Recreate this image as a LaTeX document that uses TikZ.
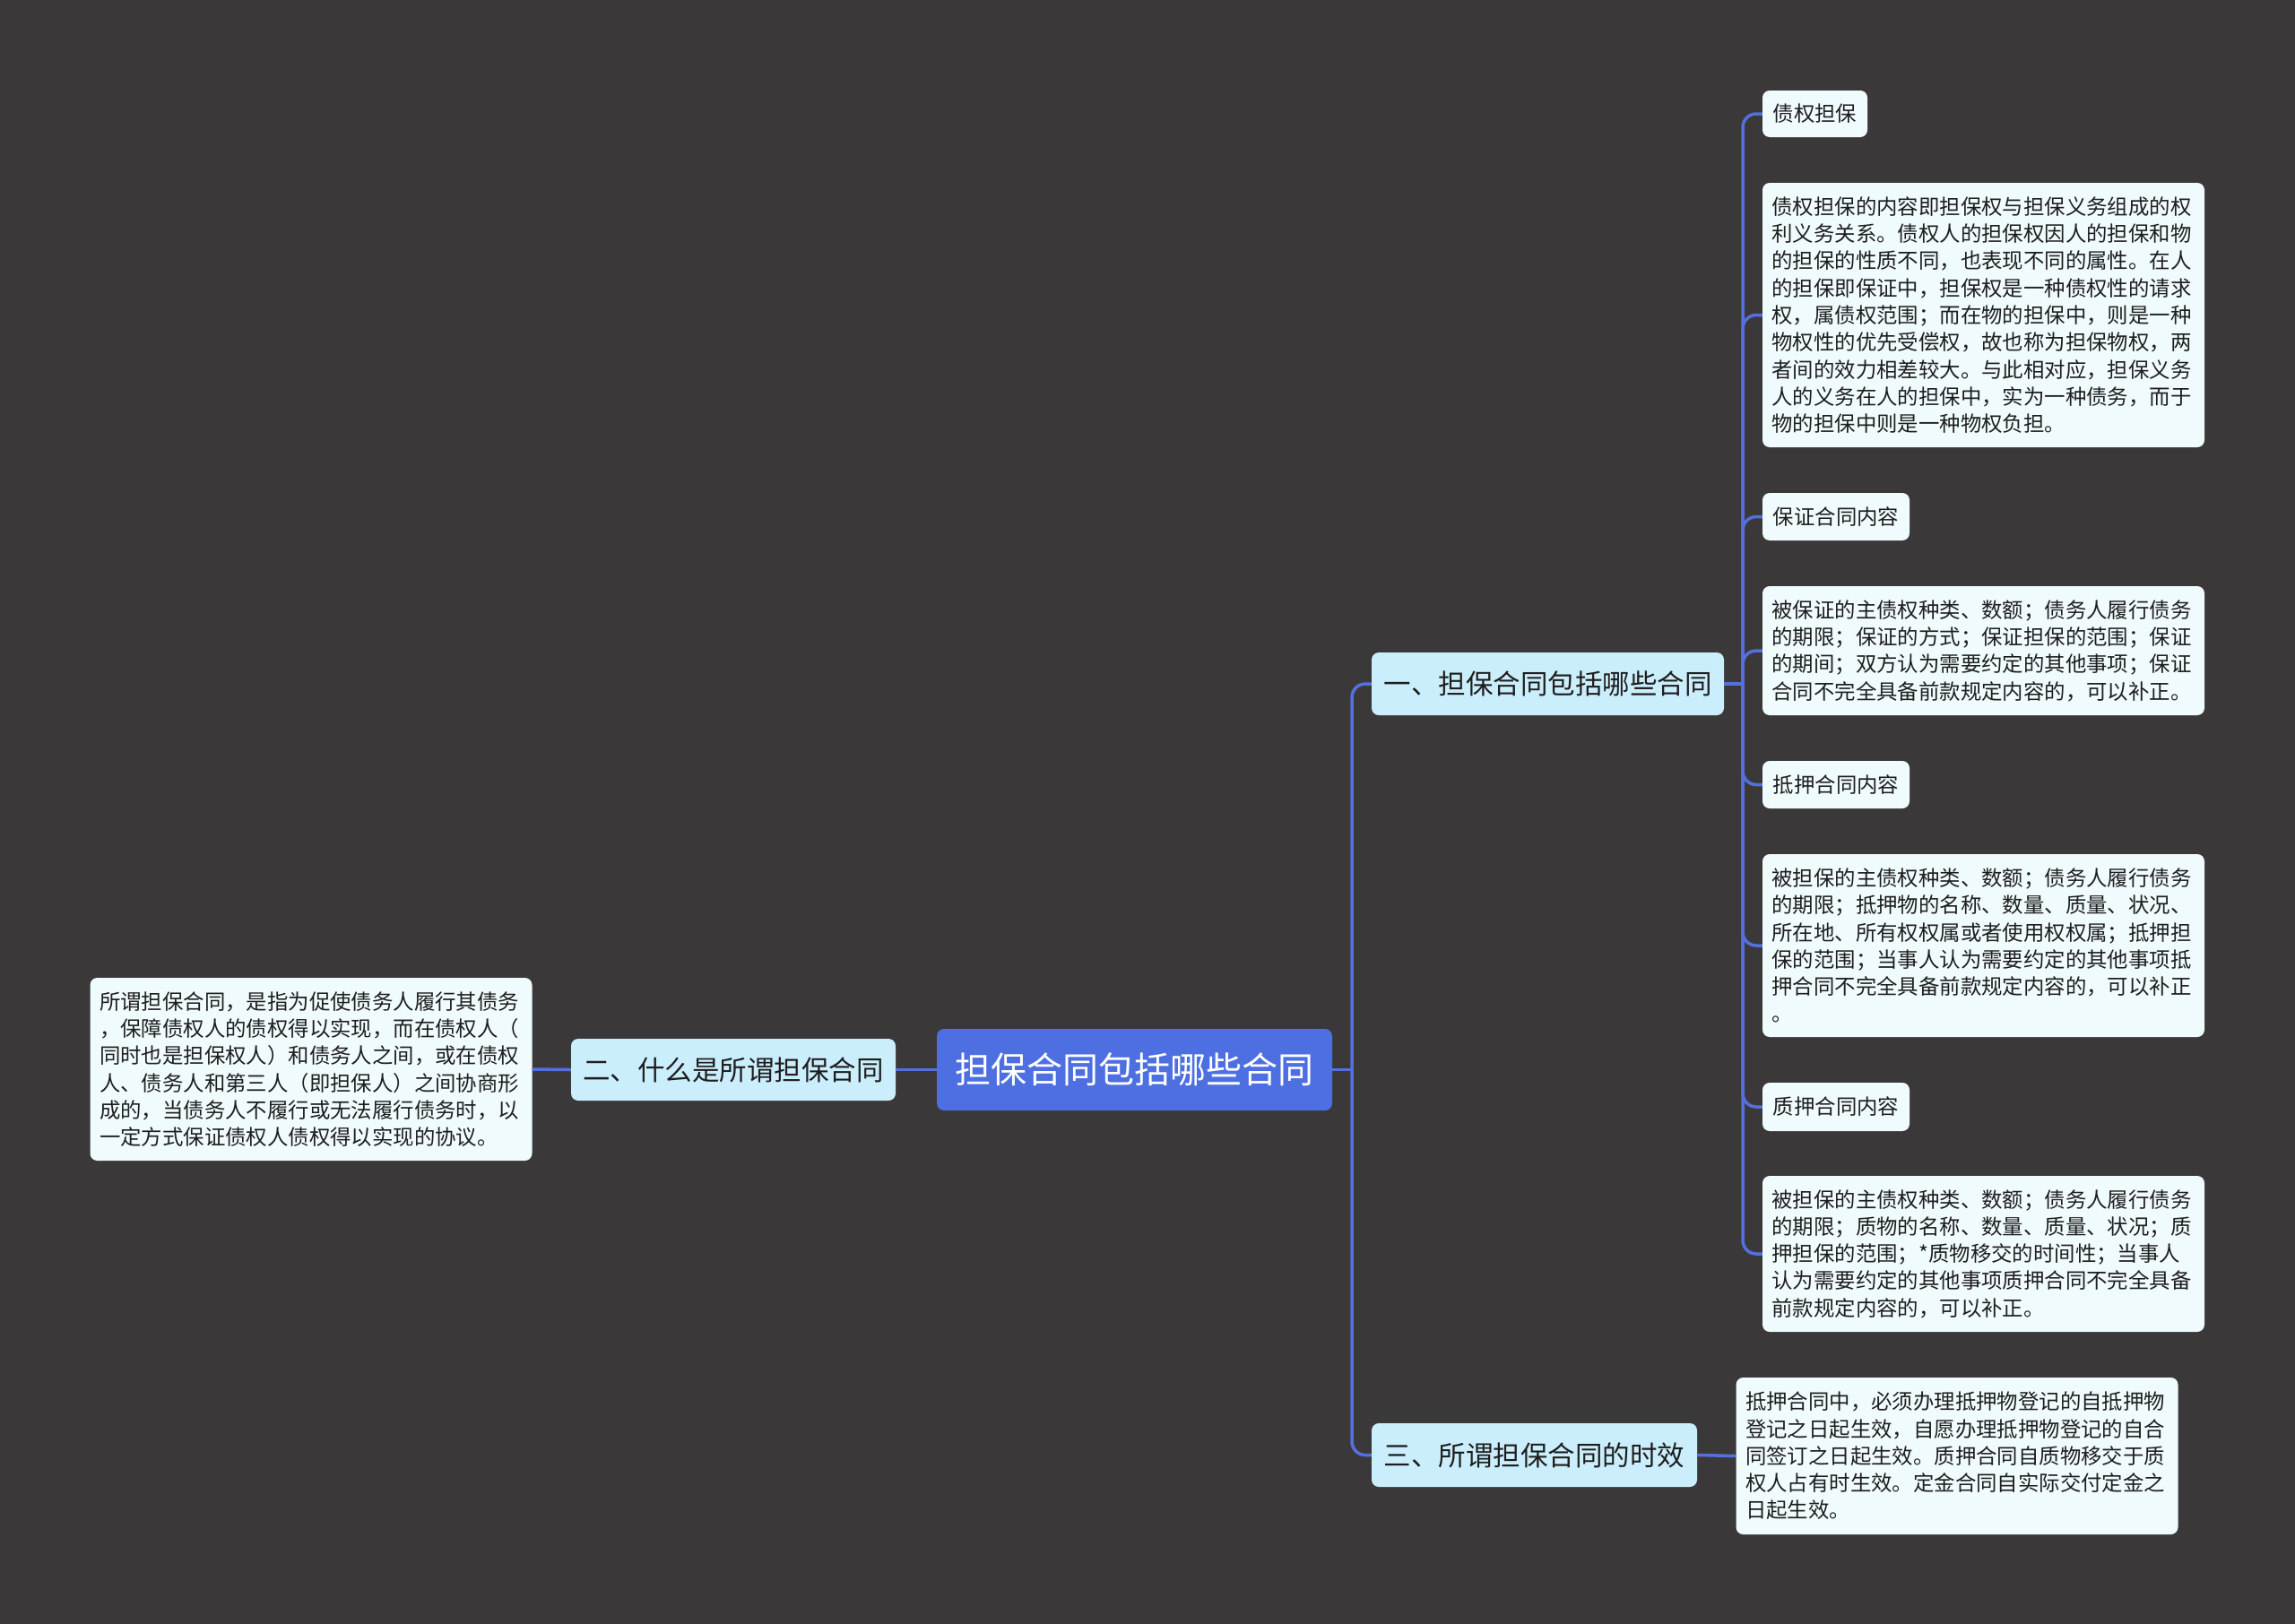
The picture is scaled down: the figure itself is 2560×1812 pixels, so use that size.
\documentclass[tikz,border=0pt]{standalone}
\usepackage{fontspec}
\setmainfont{Noto Sans CJK SC}
\usetikzlibrary{positioning,calc}
\definecolor{BgGrey}{RGB}{58, 56, 57}
\definecolor{LinkBlue}{RGB}{84, 112, 222}
\definecolor{RootBlue}{RGB}{78, 111, 226}
\definecolor{BranchFill}{RGB}{203, 238, 252}
\definecolor{LeafFill}{RGB}{240, 251, 253}
\definecolor{InkDark}{RGB}{30, 30, 30}

\begin{document}
\begin{tikzpicture}[x=1pt, y=-1pt,
  link/.style={draw=LinkBlue, line width=3.5pt, rounded corners=15pt},
  rootbox/.style={fill=RootBlue, rounded corners=8pt, text=white,
    font=\fontsize{40}{48}\selectfont, inner sep=0pt},
  branchbox/.style={fill=BranchFill, rounded corners=8pt, text=InkDark,
    font=\fontsize{30.5}{38}\selectfont, inner sep=0pt},
  tagbox/.style={fill=LeafFill, rounded corners=8pt, text=InkDark,
    font=\fontsize{23.4}{30.3}\selectfont, inner sep=0pt},
  notebox/.style={fill=LeafFill, rounded corners=8pt, text=InkDark,
    font=\fontsize{23.4}{30.3}\selectfont, align=left, text width=472pt,
    inner xsep=10.5pt, inner ysep=0pt}]

  % Background
  \fill[BgGrey] (0, 0) rectangle (2560, 1812);
  \useasboundingbox (0, 0) rectangle (2560, 1812);

  % Centre
  \node[rootbox, minimum width=441pt, minimum height=91pt] (root) at (1265.5, 1193.5) {担保合同包括哪些合同};

  % Left branch
  \node[branchbox, minimum width=362pt, minimum height=69pt] (what) at (818, 1193.5) {二、什么是所谓担保合同};
  \node[notebox, minimum height=204pt] (whatnote) at (347, 1193) {所谓担保合同，是指为促使债务人履行其债务\\，保障债权人的债权得以实现，而在债权人（\\同时也是担保权人）和债务人之间，或在债权\\人、债务人和第三人（即担保人）之间协商形\\成的，当债务人不履行或无法履行债务时，以\\一定方式保证债权人债权得以实现的协议。};

  % Right branches
  \node[branchbox, minimum width=393pt, minimum height=70pt] (kinds) at (1726.5, 763) {一、担保合同包括哪些合同};
  \node[branchbox, minimum width=363pt, minimum height=71pt] (effect) at (1711.5, 1623.5) {三、所谓担保合同的时效};
  \node[notebox, minimum height=175pt] (effectnote) at (2183, 1624.5) {抵押合同中，必须办理抵押物登记的自抵押物\\登记之日起生效，自愿办理抵押物登记的自合\\同签订之日起生效。质押合同自质物移交于质\\权人占有时生效。定金合同自实际交付定金之\\日起生效。};

  % Kinds of contracts
  \node[tagbox, minimum width=117pt, minimum height=52pt] (claim) at (2024.5, 127) {债权担保};
  \node[notebox, minimum height=295pt] (claimnote) at (2212.5, 351.5) {债权担保的内容即担保权与担保义务组成的权\\利义务关系。债权人的担保权因人的担保和物\\的担保的性质不同，也表现不同的属性。在人\\的担保即保证中，担保权是一种债权性的请求\\权，属债权范围；而在物的担保中，则是一种\\物权性的优先受偿权，故也称为担保物权，两\\者间的效力相差较大。与此相对应，担保义务\\人的义务在人的担保中，实为一种债务，而于\\物的担保中则是一种物权负担。};
  \node[tagbox, minimum width=164pt, minimum height=53pt] (guar) at (2048, 576.5) {保证合同内容};
  \node[notebox, minimum height=144pt] (guarnote) at (2212.5, 726) {被保证的主债权种类、数额；债务人履行债务\\的期限；保证的方式；保证担保的范围；保证\\的期间；双方认为需要约定的其他事项；保证\\合同不完全具备前款规定内容的，可以补正。};
  \node[tagbox, minimum width=164pt, minimum height=53pt] (mort) at (2048, 875.5) {抵押合同内容};
  \node[notebox, minimum height=204pt] (mortnote) at (2212.5, 1055) {被担保的主债权种类、数额；债务人履行债务\\的期限；抵押物的名称、数量、质量、状况、\\所在地、所有权权属或者使用权权属；抵押担\\保的范围；当事人认为需要约定的其他事项抵\\押合同不完全具备前款规定内容的，可以补正\\。};
  \node[tagbox, minimum width=164pt, minimum height=54pt] (pledge) at (2048, 1235) {质押合同内容};
  \node[notebox, minimum height=174pt] (pledgenote) at (2212.5, 1399) {被担保的主债权种类、数额；债务人履行债务\\的期限；质物的名称、数量、质量、状况；质\\押担保的范围；*质物移交的时间性；当事人\\认为需要约定的其他事项质押合同不完全具备\\前款规定内容的，可以补正。};

  % Junctions
  \coordinate (rootjoin) at (1508, 1193.5);
  \coordinate (kindsjoin) at (1944, 763);

  % Connectors
  \draw[link] (root.west) -- (what.east);
  \draw[link] (what.west) -- (whatnote.east);
  \draw[link] (root.east) -- (rootjoin);
  \draw[link] (rootjoin) |- (kinds.west);
  \draw[link] (rootjoin) |- (effect.west);
  \draw[link] (effect.east) -- (effectnote.west);
  \draw[link] (kinds.east) -- (kindsjoin);
  \foreach \leaf in {claim, claimnote, guar, guarnote, mort, mortnote, pledge, pledgenote}
    \draw[link] (kindsjoin) |- (\leaf.west);
\end{tikzpicture}
\end{document}
